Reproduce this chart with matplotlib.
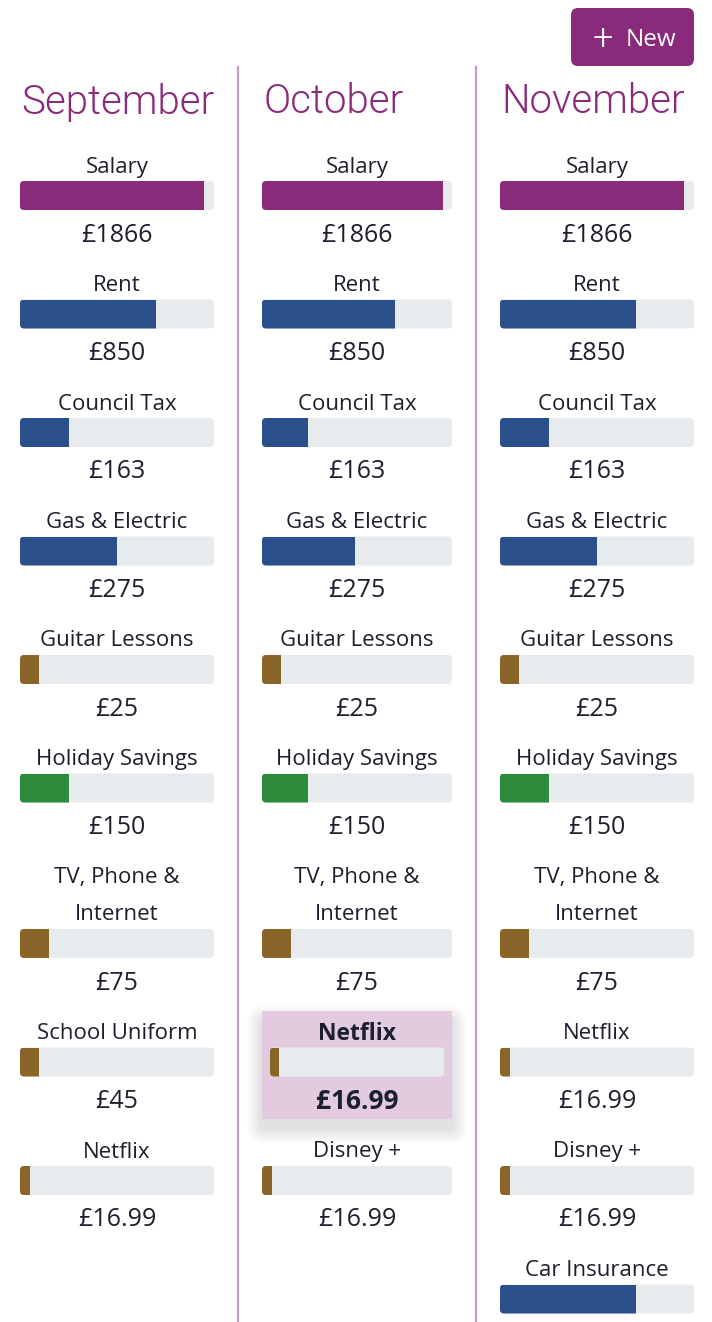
import matplotlib
matplotlib.use("Agg")
import matplotlib.pyplot as plt
from matplotlib.patches import FancyBboxPatch, Rectangle

plt.rcParams['font.family'] = ['Open Sans', 'DejaVu Sans']

# ---- data ----
months = ["September", "October", "November"]

sep_labels = ["Salary", "Rent", "Council Tax", "Gas & Electric", "Guitar Lessons",
              "Holiday Savings", "TV, Phone &\nInternet", "School Uniform", "Netflix"]
sep_amounts = ["£1866", "£850", "£163", "£275", "£25", "£150", "£75", "£45", "£16.99"]
sep_fill = [0.95, 0.70, 0.25, 0.50, 0.10, 0.25, 0.15, 0.10, 0.05]
sep_kind = ["income", "bill", "bill", "bill", "extra", "saving", "extra", "extra", "extra"]

oct_labels = ["Salary", "Rent", "Council Tax", "Gas & Electric", "Guitar Lessons",
              "Holiday Savings", "TV, Phone &\nInternet", "Netflix", "Disney +"]
oct_amounts = ["£1866", "£850", "£163", "£275", "£25", "£150", "£75", "£16.99", "£16.99"]
oct_fill = [0.95, 0.70, 0.24, 0.49, 0.10, 0.24, 0.15, 0.05, 0.05]
oct_kind = ["income", "bill", "bill", "bill", "extra", "saving", "extra", "extra", "extra"]

nov_labels = ["Salary", "Rent", "Council Tax", "Gas & Electric", "Guitar Lessons",
              "Holiday Savings", "TV, Phone &\nInternet", "Netflix", "Disney +", "Car Insurance"]
nov_amounts = ["£1866", "£850", "£163", "£275", "£25", "£150", "£75", "£16.99", "£16.99", ""]
nov_fill = [0.95, 0.70, 0.25, 0.50, 0.10, 0.25, 0.15, 0.05, 0.05, 0.70]
nov_kind = ["income", "bill", "bill", "bill", "extra", "saving", "extra", "extra", "extra", "bill"]

highlight = ("October", "Netflix")

kind_colors = {"income": "#8a2a7a", "bill": "#2b4f8a", "extra": "#8a652a", "saving": "#2c8a3a"}
accent = "#8a2a7a"
track_color = "#e8ebee"
text_color = "#1c1f2e"
divider_color = "#c99bc4"

W, H = 712, 1322
fig = plt.figure(figsize=(W / 100, H / 100), dpi=100)
ax = fig.add_axes([0, 0, 1, 1])
ax.set_xlim(0, W)
ax.set_ylim(H, 0)
ax.axis("off")

col_left = [20, 262, 500]
col_width = [194, 190, 194]
first_row = 165
row_step = 118.5
line_step = 37
bar_h = 29

# "New" button
btn = FancyBboxPatch((571, 8), 123, 58, boxstyle="round,pad=0,rounding_size=7",
                     fc=accent, ec="none")
ax.add_patch(btn)
ax.text(603, 40, "+", color="white", fontsize=26, fontfamily="Roboto", fontweight=300,
        ha="center", va="center")
ax.text(651, 40, "New", color="white", fontsize=17.5, ha="center", va="center")

# dividers
for xd in [238, 476]:
    ax.plot([xd, xd], [67, H], color=divider_color, lw=1.6)


def draw_bar(x0, y0, w, frac, color):
    track = FancyBboxPatch((x0, y0), w, bar_h, boxstyle="round,pad=0,rounding_size=4",
                           fc=track_color, ec="none", zorder=3)
    ax.add_patch(track)
    bars = ax.barh([y0 + bar_h / 2], [frac * w], left=x0, height=bar_h,
                   color=color, zorder=4)
    for b in bars:
        b.set_clip_path(track)


columns = [(sep_labels, sep_amounts, sep_fill, sep_kind),
           (oct_labels, oct_amounts, oct_fill, oct_kind),
           (nov_labels, nov_amounts, nov_fill, nov_kind)]

for ci, (labels, amounts, fills, kinds) in enumerate(columns):
    x0, w = col_left[ci], col_width[ci]
    xc = x0 + w / 2
    ax.text(x0 + 1, 102, months[ci], color=accent, fontsize=29, fontfamily="Roboto",
            fontweight=300, ha="left", va="center")
    extra = 0
    for i, (lab, amt, fr, kd) in enumerate(zip(labels, amounts, fills, kinds)):
        y = first_row + row_step * i + extra
        lines = lab.split("\n")
        nlines = len(lines)
        bar_y = y + 16 + (nlines - 1) * line_step
        val_y = y + 70 + (nlines - 1) * line_step
        extra += (nlines - 1) * line_step
        is_hl = (months[ci], lab) == highlight
        bx, bw = x0, w
        if is_hl:
            top, bot = y - 21, val_y + 17
            # soft drop shadow
            for k in range(30, 0, -2):
                ax.add_patch(FancyBboxPatch((x0 - k / 2, top - k / 2 + 10), w + k, bot - top + k,
                                            boxstyle="round,pad=0,rounding_size=%d" % (k / 2 + 2),
                                            fc="black", ec="none", alpha=0.007, zorder=1))
            ax.add_patch(Rectangle((x0, top), w, bot - top, fc="#e2cadf",
                                   ec="none", zorder=2))
            bx, bw = x0 + 8, w - 16
        for li, line in enumerate(lines):
            ax.text(xc, y + 2 + li * line_step, line, color=text_color,
                    fontsize=16.5 if is_hl else 16, ha="center", va="center",
                    fontweight="bold" if is_hl else "normal", zorder=5)
        draw_bar(bx, bar_y, bw, fr, kind_colors[kd])
        if amt:
            ax.text(xc, val_y, amt, color=text_color, fontsize=19 if is_hl else 18,
                    ha="center", va="center",
                    fontweight="bold" if is_hl else "normal", zorder=5)

fig.savefig("out.png", dpi=100)
